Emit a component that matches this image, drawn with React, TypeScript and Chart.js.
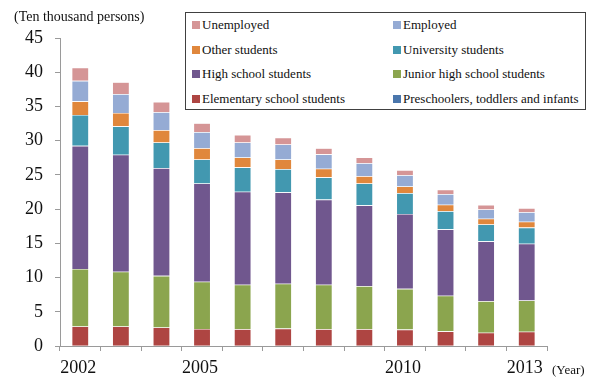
import React, { useEffect, useRef } from "react";
import { Chart, registerables } from "chart.js";

Chart.register(...registerables);

const years = ["2002", "2003", "2004", "2005", "2006", "2007", "2008", "2009", "2010", "2011", "2012", "2013"];
const xTickLabels = ["2002", "", "", "2005", "", "", "", "", "2010", "", "", "2013"];
const yTicks = [0, 5, 10, 15, 20, 25, 30, 35, 40, 45];

const preschool = [0.05, 0.05, 0.05, 0.05, 0.05, 0.05, 0.05, 0.05, 0.05, 0.05, 0.05, 0.05];
const elementary = [2.8, 2.8, 2.65, 2.45, 2.4, 2.5, 2.4, 2.4, 2.35, 2.1, 1.9, 2.05];
const juniorHigh = [8.4, 8.0, 7.55, 6.9, 6.5, 6.55, 6.5, 6.3, 5.95, 5.2, 4.6, 4.55];
const highSchool = [18.0, 17.1, 15.75, 14.35, 13.6, 13.35, 12.45, 11.8, 10.95, 9.7, 8.75, 8.3];
const university = [4.5, 4.15, 3.75, 3.5, 3.55, 3.4, 3.25, 3.2, 3.05, 2.65, 2.45, 2.35];
const otherStudents = [2.0, 1.95, 1.8, 1.65, 1.45, 1.4, 1.25, 1.05, 0.95, 0.95, 0.85, 0.85];
const employed = [3.0, 2.75, 2.6, 2.35, 2.2, 2.2, 2.1, 1.9, 1.65, 1.55, 1.35, 1.4];
const unemployed = [1.9, 1.75, 1.5, 1.3, 1.1, 1.0, 0.9, 0.85, 0.75, 0.65, 0.65, 0.6];

const series = [
  { label: "Preschoolers, toddlers and infants", data: preschool, color: "#4A76AC" },
  { label: "Elementary school students", data: elementary, color: "#AE4542" },
  { label: "Junior high school students", data: juniorHigh, color: "#8BA54E" },
  { label: "High school students", data: highSchool, color: "#70578E" },
  { label: "University students", data: university, color: "#4298B0" },
  { label: "Other students", data: otherStudents, color: "#E0873C" },
  { label: "Employed", data: employed, color: "#95ABD4" },
  { label: "Unemployed", data: unemployed, color: "#D59596" },
];

const legendRows = [
  ["Unemployed", "Employed"],
  ["Other students", "University students"],
  ["High school students", "Junior high school students"],
  ["Elementary school students", "Preschoolers, toddlers and infants"],
];

const FONT = '"Liberation Serif", "Times New Roman", serif';

export default function App() {
  const ref = useRef<HTMLCanvasElement | null>(null);

  useEffect(() => {
    document.body.style.margin = "0";
    const ctx = ref.current;
    if (!ctx) return;
    const chart = new Chart(ctx, {
      type: "bar",
      data: {
        labels: years,
        datasets: series.map((s) => ({
          label: s.label,
          data: s.data,
          backgroundColor: s.color,
          borderColor: "rgba(255,255,255,0.55)",
          borderWidth: 0.6,
          barPercentage: 0.42,
          categoryPercentage: 1,
        })),
      },
      options: {
        animation: false,
        responsive: false,
        maintainAspectRatio: false,
        layout: { padding: { top: 38, right: 53, left: 0, bottom: 0 } },
        plugins: { legend: { display: false }, tooltip: { enabled: false } },
        scales: {
          x: {
            stacked: true,
            offset: true,
            afterFit: (s: any) => {
              s.height = 32;
            },
            grid: {
              offset: true,
              drawOnChartArea: false,
              drawTicks: true,
              tickLength: 5,
              color: "#9A9A9A",
            },
            border: { color: "#9A9A9A", width: 1 },
            ticks: {
              autoSkip: false,
              maxRotation: 0,
              padding: 6,
              labelOffset: -2,
              color: "#111",
              font: { family: FONT, size: 18 },
              callback: (_v: any, i: number) => xTickLabels[i],
            },
          },
          y: {
            stacked: true,
            min: 0,
            max: 45,
            afterFit: (s: any) => {
              s.width = 60;
            },
            afterBuildTicks: (s: any) => {
              s.ticks = yTicks.map((v) => ({ value: v }));
            },
            grid: {
              drawOnChartArea: false,
              drawTicks: true,
              tickLength: 5,
              color: "#9A9A9A",
            },
            border: { color: "#9A9A9A", width: 1 },
            ticks: {
              padding: 12,
              color: "#111",
              font: { family: FONT, size: 18 },
            },
          },
        },
      },
    });
    return () => chart.destroy();
  }, []);

  return (
    <div style={{ position: "relative", width: 600, height: 378, background: "#fff", fontFamily: FONT }}>
      <canvas ref={ref} width={600} height={378} style={{ position: "absolute", left: 0, top: 0, width: 600, height: 378 }} />
      <div style={{ position: "absolute", left: 14, top: 9, fontSize: 14, color: "#111", whiteSpace: "nowrap" }}>
        (Ten thousand persons)
      </div>
      <div style={{ position: "absolute", left: 552, top: 362, fontSize: 13, color: "#111", whiteSpace: "nowrap" }}>
        (Year)
      </div>
      <div
        style={{
          position: "absolute",
          left: 185,
          top: 12,
          width: 401,
          height: 98,
          border: "1px solid #404040",
          background: "#fff",
          boxSizing: "border-box",
        }}
      >
        {legendRows.map((row, ri) =>
          row.map((name, ci) => {
            const s = series.find((x) => x.label === name)!;
            return (
              <div
                key={name}
                style={{
                  position: "absolute",
                  left: ci === 0 ? 6 : 207,
                  top: 4 + ri * 24.7,
                  height: 16,
                  display: "flex",
                  alignItems: "center",
                  fontSize: 13,
                  color: "#111",
                  whiteSpace: "nowrap",
                }}
              >
                <span style={{ display: "inline-block", width: 8, height: 8, background: s.color, marginRight: 2 }} />
                <span>{name}</span>
              </div>
            );
          })
        )}
      </div>
    </div>
  );
}
